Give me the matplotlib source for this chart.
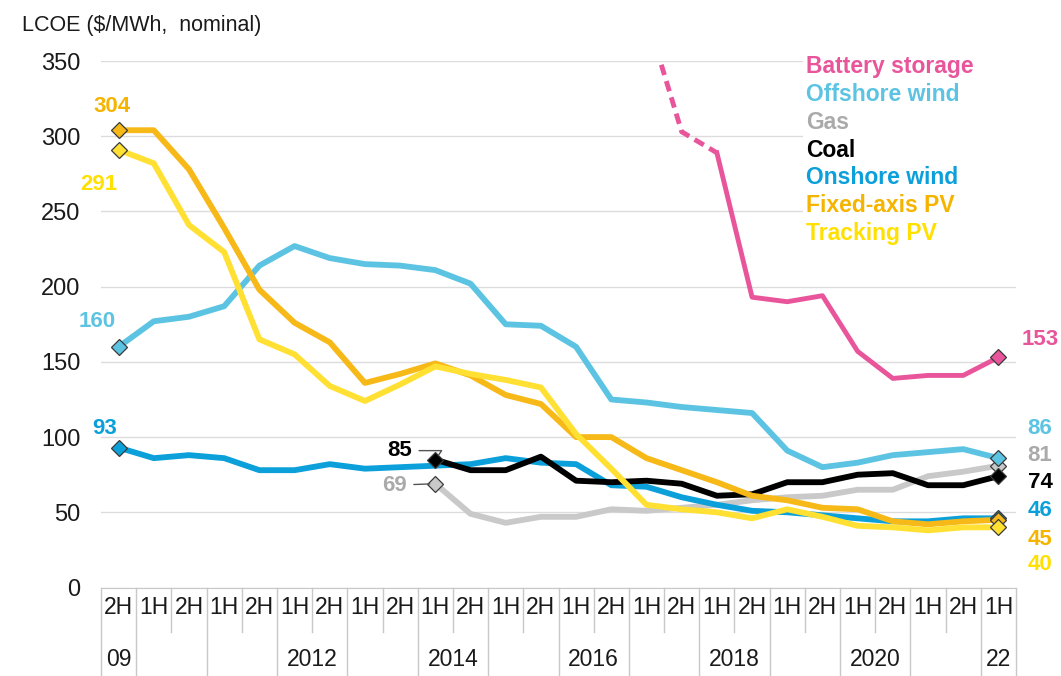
import numpy as np
import matplotlib.pyplot as plt
import matplotlib.transforms as mtransforms
from matplotlib.patches import Rectangle

plt.rcParams['font.family'] = ['Liberation Sans', 'DejaVu Sans']

# x axis categories (half years, 2H 2009 .. 1H 2022)
halves = ['2H'] + ['1H', '2H'] * 12 + ['1H']
year_labels = ['09', '', '', '2012', '', '2014', '', '2016', '', '2018', '', '2020', '', '22']
year_sizes = [1] + [2] * 12 + [1]

N = np.nan
battery = [N] * 15 + [380, 303, 289, 193, 190, 194, 157, 139, 141, 141, 153]
offshore = [160, 177, 180, 187, 214, 227, 219, 215, 214, 211, 202, 175, 174,
            160, 125, 123, 120, 118, 116, 91, 80, 83, 88, 90, 92, 86]
gas = [N] * 9 + [69, 49, 43, 47, 47, 52, 51, 53, 55, 58, 60, 61, 65, 65, 74, 77, 81]
coal = [N] * 9 + [85, 78, 78, 87, 71, 70, 71, 69, 61, 62, 70, 70, 75, 76, 68, 68, 74]
onshore = [93, 86, 88, 86, 78, 78, 82, 79, 80, 81, 82, 86, 83,
           82, 68, 67, 60, 55, 51, 50, 48, 46, 44, 44, 46, 46]
fixed_pv = [304, 304, 278, 239, 198, 176, 163, 136, 142, 149, 141, 128, 122,
            100, 100, 86, 78, 70, 61, 58, 53, 52, 44, 42, 44, 45]
tracking_pv = [291, 282, 241, 223, 165, 155, 134, 124, 135, 147, 142, 138, 133,
               102, 79, 55, 52, 50, 46, 52, 47, 41, 40, 38, 40, 40]

names = ['Battery storage', 'Offshore wind', 'Gas', 'Coal', 'Onshore wind',
         'Fixed-axis PV', 'Tracking PV']
colors = ['#E9559B', '#5CC4E2', '#C9C9C9', '#000000', '#0BA0DA', '#F7B918', '#FFE033']
series = [battery, offshore, gas, coal, onshore, fixed_pv, tracking_pv]

# label positions (data coords): start labels and end labels
start_pos = {'Offshore wind': (-0.62, 177), 'Onshore wind': (-0.40, 106),
             'Fixed-axis PV': (-0.19, 320), 'Tracking PV': (-0.56, 268),
             'Coal': (7.99, 91), 'Gas': (7.84, 68)}
end_y = {'Battery storage': 165, 'Offshore wind': 106, 'Gas': 88, 'Coal': 70,
         'Onshore wind': 51, 'Fixed-axis PV': 32, 'Tracking PV': 15}
label_colors = {'Gas': '#AAAAAA', 'Tracking PV': '#FFE000', 'Fixed-axis PV': '#F5B400'}

fig = plt.figure(figsize=(10.61, 6.76), dpi=100)
ax = fig.add_axes([0.0952, 0.1309, 0.8624, 0.7788])
x = np.arange(len(halves))

ax.set_xlim(-0.5, len(halves) - 0.5)
ax.set_ylim(0, 350)
ax.set_yticks(range(0, 351, 50))
ax.set_xticks([])
ax.tick_params(axis='y', length=0, pad=15, labelsize=17, labelcolor='#1a1a1a')
ax.set_axisbelow(True)
ax.grid(axis='y', color='#DCDCDC', lw=1)
for s in ['top', 'right', 'left']:
    ax.spines[s].set_visible(False)
ax.spines['bottom'].set_color('#C8C8C8')

# white box behind the legend text
ax.add_patch(Rectangle((19.44, 227), 6.06, 125, facecolor='white', edgecolor='none', zorder=1))

draw_order = [2, 1, 4, 3, 5, 6, 0]
for k in draw_order:
    name, c = names[k], colors[k]
    y = np.array(series[k], dtype=float)
    valid = np.where(~np.isnan(y))[0]
    if name == 'Battery storage':
        first = valid[0]
        ax.plot(x[first:first + 3], y[first:first + 3], color=c, lw=3.5, ls=(0, (2.2, 1.3)), zorder=3)
        ax.plot(x[first + 2:], y[first + 2:], color=c, lw=3.5, zorder=3)
        marks = [valid[-1]]
    else:
        ax.plot(x, y, color=c, lw=4.2, zorder=3)
        marks = [valid[0], valid[-1]]
    ax.plot(x[marks], y[marks], 'D', ms=8.5, mfc=c, mec='#3a3a3a', mew=0.9, zorder=4)

    lc = label_colors.get(name, c)
    if name in start_pos:
        tx, ty = start_pos[name]
        v0 = y[valid[0]]
        if name in ('Coal', 'Gas'):
            conn = 'angle,angleA=0,angleB=55,rad=0' if name == 'Coal' else 'arc3'
            ax.annotate(f'{v0:.0f}', xy=(x[valid[0]], v0), xytext=(tx, ty),
                        ha='center', va='center', fontsize=16, fontweight='bold', color=lc,
                        arrowprops=dict(arrowstyle='-', color='#555555', lw=1,
                                        shrinkA=3, shrinkB=4, connectionstyle=conn),
                        zorder=5, annotation_clip=False)
        else:
            ax.text(tx, ty, f'{v0:.0f}', ha='center', va='center', fontsize=16,
                    fontweight='bold', color=lc, clip_on=False)
    ax.text(26.18, end_y[name], f'{y[valid[-1]]:.0f}', ha='center', va='center',
            fontsize=16, fontweight='bold', color=lc, clip_on=False)

# category table under the axis
trans = mtransforms.blended_transform_factory(ax.transData, ax.transAxes)
for i, h in enumerate(halves):
    ax.text(i, -0.038, h, transform=trans, ha='center', va='center', fontsize=16.5, color='#1a1a1a')
edges = np.concatenate([[0], np.cumsum(year_sizes)]) - 0.5
for i in range(len(halves) + 1):
    b = i - 0.5
    long_line = np.any(np.isclose(edges, b))
    ax.plot([b, b], [0, -0.167 if long_line else -0.084], transform=trans,
            color='#C8C8C8', lw=1, clip_on=False)
for lab, e0, sz in zip(year_labels, edges[:-1], year_sizes):
    if lab:
        ax.text(e0 + sz / 2, -0.137, lab, transform=trans, ha='center', va='center',
                fontsize=16.5, color='#1a1a1a')

# title and legend text
fig.text(22 / 1061, 1 - 25 / 676, 'LCOE ($/MWh,  nominal)', ha='left', va='center',
         fontsize=15.5, color='#1a1a1a')
for j, name in enumerate(names):
    fig.text(806 / 1061, 1 - (67 + j * 27.7) / 676, name, ha='left', va='center',
             fontsize=16.5, fontweight='bold', color=label_colors.get(name, colors[j]))

fig.savefig('out.png', dpi=100)
